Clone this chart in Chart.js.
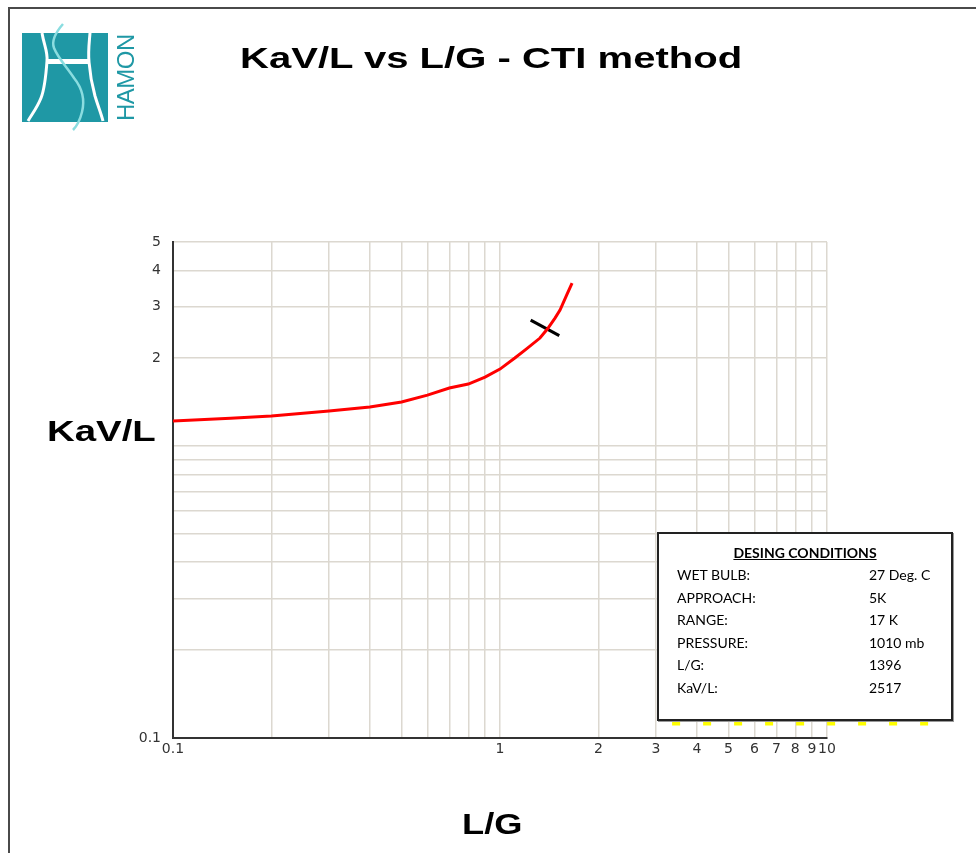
<!DOCTYPE html>
<html>
<head>
<meta charset="utf-8">
<title>KaV/L vs L/G - CTI method</title>
<script src="https://cdn.jsdelivr.net/npm/chart.js@4.4.1/dist/chart.umd.min.js"></script>
<style>
    body { margin: 0; background: #ffffff; }
    #pagina { position: relative; width: 976px; height: 853px; overflow: hidden; font-family: "Liberation Sans", Arial, sans-serif; }
    #moldura { position: absolute; left: 8px; top: 7px; width: 980px; height: 860px; border-top: 2px solid #4a4a4a; border-left: 2px solid #4a4a4a; }
    #grafico { position: absolute; left: 0; top: 0; }
    .texto { position: absolute; font-weight: bold; color: #000; white-space: nowrap; transform-origin: 0 0; transform: scaleX(1.25); }
    #titulo { left: 240px; top: 41px; font-size: 30px; transform: scaleX(1.335); }
    #tituloY { left: 47px; top: 414px; font-size: 30px; transform: scaleX(1.28); }
    #tituloX { left: 462px; top: 808px; font-size: 29px; }
    #hamon { position: absolute; left: 112px; top: 121px; font-size: 24px; color: #1f98a5; transform-origin: 0 0; transform: rotate(-90deg); letter-spacing: -0.5px; }
    #logo { position: absolute; left: 0; top: 0; }
    #quadro { position: absolute; left: 657px; top: 532px; width: 292px; height: 185px; background: #fff; border: 2px solid #222; box-shadow: 1px 1px 0 #999; font-family: Lato, "Open Sans", sans-serif; font-size: 14px; color: #000; }
    #quadro .cab { position: absolute; left: 0; width: 100%; top: 10px; text-align: center; font-weight: bold; text-decoration: underline; }
    #quadro .lin { position: absolute; left: 18px; }
    #quadro .val { position: absolute; left: 210px; }
</style>
</head>
<body>
<div id="pagina">
    <div id="moldura"></div>
    <canvas id="grafico" width="976" height="853"></canvas>

    <svg id="logo" width="150" height="140" viewBox="0 0 150 140">
        <rect x="22" y="33" width="86" height="89" fill="#1f98a5"/>
        <path d="M42 33 C44 45 48 52 47 61 C46 75 45 88 41 98 C37 108 32 114 28 121" stroke="#fff" stroke-width="3" fill="none"/>
        <path d="M90 33 C89 45 88 52 89 62 C90 75 92 85 95 96 C98 106 101 113 103 121" stroke="#fff" stroke-width="3" fill="none"/>
        <rect x="46" y="59" width="44" height="5" fill="#fff"/>
        <path d="M63 24 C56 32 51 40 54 48 C58 58 66 66 74 78 C82 88 85 100 82 112 C80 120 77 126 73 130" stroke="#8adde0" stroke-width="2.5" fill="none"/>
    </svg>
    <div id="hamon">HAMON</div>

    <div id="titulo" class="texto">KaV/L vs L/G - CTI method</div>
    <div id="tituloY" class="texto">KaV/L</div>
    <div id="tituloX" class="texto">L/G</div>

    <div id="quadro">
        <div class="cab">DESING CONDITIONS</div>
        <div class="lin" style="top:32px">WET BULB:</div><div class="val" style="top:32px">27 Deg. C</div>
        <div class="lin" style="top:55px">APPROACH:</div><div class="val" style="top:55px">5K</div>
        <div class="lin" style="top:77px">RANGE:</div><div class="val" style="top:77px">17 K</div>
        <div class="lin" style="top:100px">PRESSURE:</div><div class="val" style="top:100px">1010 mb</div>
        <div class="lin" style="top:122px">L/G:</div><div class="val" style="top:122px">1396</div>
        <div class="lin" style="top:145px">KaV/L:</div><div class="val" style="top:145px">2517</div>
    </div>
</div>

<script>
// grade logaritmica e rotulos
const gradeX = [0.1, 0.2, 0.3, 0.4, 0.5, 0.6, 0.7, 0.8, 0.9, 1, 2, 3, 4, 5, 6, 7, 8, 9, 10];
const rotulosX = [0.1, 1, 2, 3, 4, 5, 6, 7, 8, 9, 10];
const gradeY = [0.1, 0.2, 0.3, 0.4, 0.5, 0.6, 0.7, 0.8, 0.9, 1, 2, 3, 4, 5];
const rotulosY = [0.1, 2, 3, 4, 5];

// curva KaV/L x L/G
const lg = [0.1, 0.15, 0.2, 0.3, 0.4, 0.5, 0.6, 0.7, 0.8, 0.9, 1.0, 1.11, 1.2, 1.325, 1.396, 1.473, 1.526, 1.6, 1.661];
const kavl = [1.218, 1.245, 1.267, 1.318, 1.36, 1.415, 1.495, 1.58, 1.631, 1.723, 1.835, 2.002, 2.144, 2.344, 2.517, 2.744, 2.922, 3.293, 3.616];

// marca do ponto de projeto
const marcaLg = [1.241, 1.518];
const marcaKavl = [2.70, 2.39];

// linha amarela (quase toda coberta pelo quadro)
const amareloLg = [3.36, 20.5];
const amareloKavl = [0.1125, 0.1125];

function pontos(xs, ys) {
    return xs.map(function (x, i) { return { x: x, y: ys[i] }; });
}

let chartData = {
    datasets: [{
        data: pontos(amareloLg, amareloKavl),
        borderColor: '#ffff00',
        borderWidth: 5,
        borderDash: [8, 23],
        pointRadius: 0,
        clip: false
    },
    {
        data: pontos(lg, kavl),
        borderColor: '#ff0000',
        borderWidth: 3,
        pointRadius: 0,
        tension: 0
    },
    {
        data: pontos(marcaLg, marcaKavl),
        borderColor: '#000000',
        borderWidth: 3,
        pointRadius: 0
    }
    ]
};

const corGrade = '#dcd8d0';
const fonteTick = { family: 'DejaVu Sans', size: 14 };

const config = {
    type: 'line',
    data: chartData,
    options: {
        responsive: false,
        animation: false,
        layout: { padding: { left: 0, top: 242, right: 149, bottom: 0 } },
        scales: {
            x: {
                type: 'logarithmic',
                min: 0.1,
                max: 10,
                afterBuildTicks: function (scale) {
                    scale.ticks = gradeX.map(function (v) { return { value: v }; });
                },
                afterFit: function (scale) { scale.height = 115; },
                grid: { color: corGrade, lineWidth: 1.5, drawTicks: false },
                border: { color: '#333333', width: 2 },
                ticks: {
                    autoSkip: false,
                    maxRotation: 0,
                    padding: 3,
                    color: '#333333',
                    font: fonteTick,
                    callback: function (value) {
                        return rotulosX.includes(value) ? String(value) : '';
                    }
                }
            },
            y: {
                type: 'logarithmic',
                min: 0.1,
                max: 5,
                afterBuildTicks: function (scale) {
                    scale.ticks = gradeY.map(function (v) { return { value: v }; });
                },
                afterFit: function (scale) { scale.width = 173; },
                grid: { color: corGrade, lineWidth: 1.5, drawTicks: false },
                border: { color: '#333333', width: 2 },
                ticks: {
                    autoSkip: false,
                    padding: 12,
                    color: '#333333',
                    font: fonteTick,
                    callback: function (value) {
                        return rotulosY.includes(value) ? String(value) : '';
                    }
                }
            }
        },
        plugins: {
            legend: { display: false },
            tooltip: { enabled: false },
            title: { display: false }
        }
    }
};

let myChart = new Chart(document.getElementById('grafico'), config);
</script>
</body>
</html>
